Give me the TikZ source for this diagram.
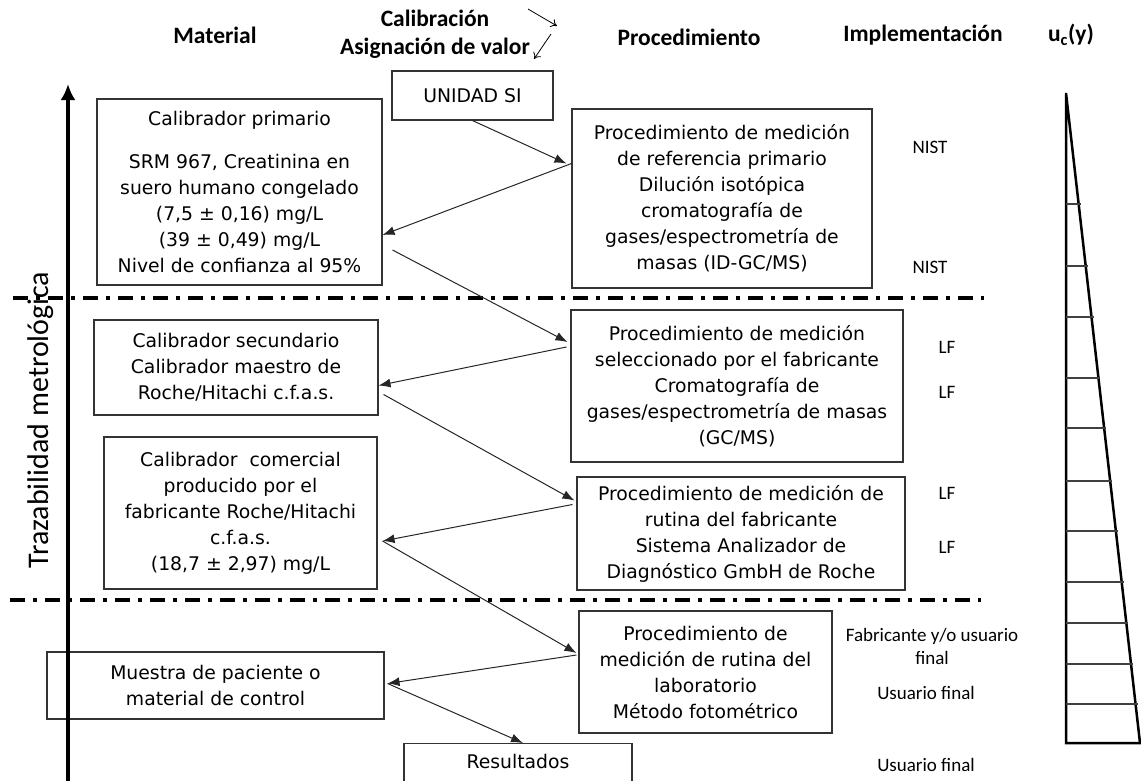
\documentclass[tikz,border=0pt]{standalone}
\usepackage{fontspec}
\setmainfont{DejaVu Sans}
\newfontfamily\calfont{Carlito}
\usetikzlibrary{calc,arrows.meta}

\newcommand{\cajatxt}{\fontsize{18.8}{26}\selectfont}
\newcommand{\titulotxt}{\calfont\bfseries\fontsize{23.5}{28}\selectfont}
\newcommand{\etiqtxt}{\calfont\fontsize{19}{23}\selectfont}

\tikzset{
  caja/.style={draw=black!80, line width=1.1pt, align=center, font=\cajatxt, inner sep=0pt},
  titulo/.style={font=\titulotxt, align=center, inner sep=0pt},
  etiq/.style={font=\etiqtxt, align=center, inner sep=0pt},
  flecha/.style={line width=1pt, draw=black!85, -{Latex[length=12pt,width=9pt]}},
  corte/.style={line width=3.5pt, dash pattern=on 15pt off 8pt on 4pt off 8pt},
}

\begin{document}
\begin{tikzpicture}[x=1pt,y=-1pt]
  \useasboundingbox (0,0) rectangle (1141,780);

  % encabezados
  \node[titulo] (Mat) at (215,35) {Material};
  \node[titulo] (Cal) at (435,34) {Calibración\\Asignación de valor};
  \node[titulo] (Proc) at (689,37) {Procedimiento};
  \node[titulo] (Impl) at (923,35) {Implementación};
  \node[titulo] (Uc) at (1071,35) {u\textsubscript{c}(y)};
  \coordinate (F1a) at (528,9);
  \coordinate (F1b) at (557,26);
  \coordinate (F2a) at (551,34);
  \coordinate (F2b) at (534,59);
  \draw[line width=0.8pt, -{To[length=6pt,width=9pt]}] (F1a) -- (F1b);
  \draw[line width=0.8pt, -{To[length=6pt,width=9pt]}] (F2a) -- (F2b);

  % columna material
  \node[caja, minimum width=161pt, minimum height=49pt] (SI) at (472.5,95.5) {UNIDAD SI};
  \node[caja, minimum width=285pt, minimum height=186pt] (CalP) at (239.5,192)
    {Calibrador primario\\[17pt]SRM 967, Creatinina en\\suero humano congelado\\(7,5 ± 0,16) mg/L\\(39 ± 0,49) mg/L\\Nivel de confianza al 95\%};
  \node[caja, minimum width=284pt, minimum height=95pt] (CalS) at (236,367.5)
    {Calibrador secundario\\Calibrador maestro de\\Roche/Hitachi c.f.a.s.};
  \node[caja, minimum width=273pt, minimum height=152pt] (CalC) at (240.5,513)
    {Calibrador\ \ comercial\\producido por el\\fabricante Roche/Hitachi\\c.f.a.s.\\(18,7 ± 2,97) mg/L};
  \node[caja, minimum width=337pt, minimum height=67pt] (Mue) at (215.5,685.5)
    {Muestra de paciente o\\material de control};
  \node[caja, anchor=north, minimum width=228pt, text height=25pt, text depth=40pt] (Res) at (518,743) {Resultados};

  % columna procedimiento
  \node[caja, minimum width=300pt, minimum height=179pt] (ProcP) at (722,198.5)
    {Procedimiento de medición\\de referencia primario\\Dilución isotópica\\cromatografía de\\gases/espectrometría de\\masas (ID-GC/MS)};
  \node[caja, minimum width=332pt, minimum height=152pt] (ProcS) at (737,386)
    {Procedimiento de medición\\seleccionado por el fabricante\\Cromatografía de\\gases/espectrometría de masas\\(GC/MS)};
  \node[caja, minimum width=328pt, minimum height=113pt] (ProcR) at (741,533.5)
    {Procedimiento de medición de\\rutina del fabricante\\Sistema Analizador de\\Diagnóstico GmbH de Roche};
  \node[caja, minimum width=253pt, minimum height=122pt] (ProcL) at (705.5,672)
    {Procedimiento de\\medición de rutina del\\laboratorio\\Método fotométrico};

  % implementacion
  \node[etiq] (N1) at (930,147) {NIST};
  \node[etiq] (N2) at (930,267) {NIST};
  \node[etiq] (L1) at (947,347) {LF};
  \node[etiq] (L2) at (947,392) {LF};
  \node[etiq] (L3) at (947,493) {LF};
  \node[etiq] (L4) at (947,547) {LF};
  \node[etiq] (Fab) at (932,646.5) {Fabricante y/o usuario\\final};
  \node[etiq] (Us1) at (926,693) {Usuario final};
  \node[etiq] (Us2) at (926,765) {Usuario final};

  % lineas de corte
  \coordinate (C1a) at (13,298);
  \coordinate (C1b) at (984,298);
  \coordinate (C2a) at (10,600);
  \coordinate (C2b) at (981,600);
  \draw[corte] (C1a) -- (C1b);
  \draw[corte] (C2a) -- (C2b);

  % flechas
  \draw[flecha] (SI.south) -- ($(ProcP.west)+(-5,-35)$);
  \draw[flecha] ($(ProcP.west)+(0,-35)$) -- ($(CalP.east)+(0,43)$);
  \draw[flecha] ($(CalP.east)+(10,58)$) -- ($(ProcS.west)+(-3,-44)$);
  \draw[flecha] ($(ProcS.west)+(-4,-39)$) -- ($(CalS.east)+(0,18)$);
  \draw[flecha] ($(CalS.east)+(5,27)$) -- ($(ProcR.west)+(-2,-33)$);
  \coordinate (CC) at ($(CalC.east)+(5,28)$);
  \draw[flecha] ($(ProcR.west)+(-4,-29)$) -- (CC);
  \draw[flecha] (CC) -- ($(ProcL.west)+(-2,-19)$);
  \coordinate (MM) at ($(Mue.east)+(3,-2)$);
  \draw[flecha] ($(ProcL.west)+(-2,-17)$) -- (MM);
  \draw[flecha] (MM) -- ($(Res.north)+(5,0)$);

  % trazabilidad
  \coordinate (EjeA) at (68,782);
  \coordinate (EjeB) at (68,84);
  \draw[line width=4pt, -{Latex[length=16pt,width=15pt]}] (EjeA) -- (EjeB);
  \node[font=\calfont\fontsize{30}{33}\selectfont, rotate=90, inner sep=0pt] (Traz) at (41,420) {Trazabilidad metrológica};

  % u_c(y)
  \coordinate (TA) at (1066,93);
  \coordinate (TB) at (1066,743);
  \coordinate (TC) at (1140,743);
  \draw[line width=2.5pt, line join=miter] (TA) -- (TB) -- (TC) -- cycle;
  \foreach \y in {204,266,317,378,428,481,531,582,623,664,704}
    \draw[line width=1.3pt, black!75] (1066,\y) -- ({1068+(\y-93)/650*74},\y);
\end{tikzpicture}
\end{document}
